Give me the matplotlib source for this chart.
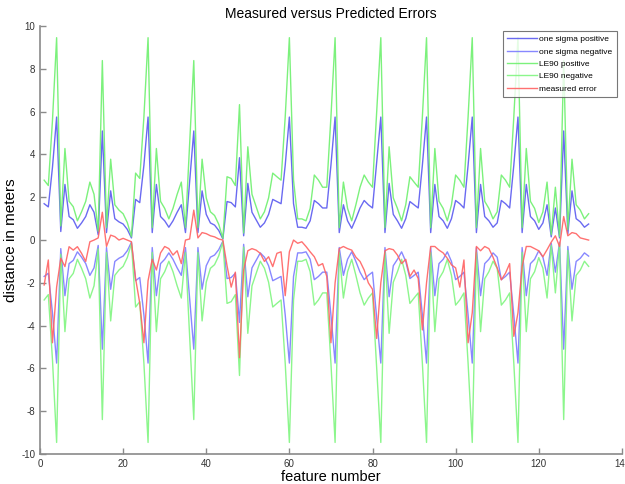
import matplotlib
matplotlib.use("Agg")
import matplotlib.pyplot as plt

# feature numbers 1..132
features = list(range(1, 133))

sigma_pos = [
    1.70, 1.55, 3.40, 5.75, 0.40, 2.60, 1.10, 0.95, 0.55, 0.80, 1.10, 1.65, 1.30, 0.25, 5.10,
    0.35, 2.30, 1.00, 0.85, 0.75, 0.50, 0.10, 1.90, 1.75, 3.50, 5.75,
    0.35, 2.60, 1.10, 0.90, 0.60, 0.90, 1.30, 1.65, 0.35, 2.70, 5.10,
    0.35, 2.30, 1.20, 0.80, 0.70, 0.45, 0.05, 1.80, 1.75, 1.55, 3.85,
    0.20, 2.65, 1.30, 0.95, 0.60, 0.80, 1.20, 1.90, 1.80, 1.70, 3.50, 5.75,
    1.70, 0.60, 0.60, 0.55, 0.90, 1.85, 1.70, 1.50, 1.50, 3.50, 5.75,
    0.35, 1.65, 0.90, 0.55, 1.00, 1.50, 1.85, 1.65, 1.50, 3.60, 5.75,
    0.35, 2.65, 1.20, 0.90, 0.55, 1.00, 1.80, 1.65, 1.50, 3.50, 5.75,
    0.35, 2.60, 1.10, 0.90, 0.55, 1.00, 1.85, 1.70, 1.50, 3.50, 5.75,
    0.35, 2.60, 1.10, 0.90, 0.60, 0.80, 1.85, 1.70, 1.50, 3.50, 5.75,
    0.35, 2.60, 1.10, 0.90, 0.50, 0.80, 1.65, 0.15, 1.50, 0.10, 5.10,
    0.30, 2.30, 1.00, 0.85, 0.60, 0.75,
]

sigma_neg = [
    -1.70, -1.55, -3.40, -5.75, -0.40, -2.60, -1.10, -0.95, -0.55, -0.80, -1.10, -1.65, -1.30, -0.25, -5.10,
    -0.35, -2.30, -1.00, -0.85, -0.75, -0.50, -0.10, -1.90, -1.75, -3.50, -5.75,
    -0.35, -2.60, -1.10, -0.90, -0.60, -0.90, -1.30, -1.65, -0.35, -2.70, -5.10,
    -0.35, -2.30, -1.20, -0.80, -0.70, -0.45, -0.05, -1.80, -1.75, -1.55, -3.85,
    -0.20, -2.65, -1.30, -0.95, -0.60, -0.80, -1.20, -1.90, -1.80, -1.70, -3.50, -5.75,
    -1.70, -0.60, -0.60, -0.55, -0.90, -1.85, -1.70, -1.50, -1.50, -3.50, -5.75,
    -0.35, -1.65, -0.90, -0.55, -1.00, -1.50, -1.85, -1.65, -1.50, -3.60, -5.75,
    -0.35, -2.65, -1.20, -0.90, -0.55, -1.00, -1.80, -1.65, -1.50, -3.50, -5.75,
    -0.35, -2.60, -1.10, -0.90, -0.55, -1.00, -1.85, -1.70, -1.50, -3.50, -5.75,
    -0.35, -2.60, -1.10, -0.90, -0.60, -0.80, -1.85, -1.70, -1.50, -3.50, -5.75,
    -0.35, -2.60, -1.10, -0.90, -0.50, -0.80, -1.65, -0.15, -1.50, -0.10, -5.10,
    -0.30, -2.30, -1.00, -0.85, -0.60, -0.75,
]

le90_pos = [
    2.80, 2.55, 5.59, 9.46, 0.66, 4.28, 1.81, 1.56, 0.90, 1.32, 1.81, 2.71, 2.14, 0.41, 8.39,
    0.58, 3.78, 1.65, 1.40, 1.23, 0.82, 0.16, 3.13, 2.88, 5.76, 9.46,
    0.58, 4.28, 1.81, 1.48, 0.99, 1.48, 2.14, 2.71, 0.58, 4.44, 8.39,
    0.58, 3.78, 1.97, 1.32, 1.15, 0.74, 0.08, 2.96, 2.88, 2.55, 6.33,
    0.33, 4.36, 2.14, 1.56, 0.99, 1.32, 1.97, 3.13, 2.96, 2.80, 5.76, 9.46,
    2.80, 0.99, 0.99, 0.90, 1.48, 3.04, 2.80, 2.47, 2.47, 5.76, 9.46,
    0.58, 2.71, 1.48, 0.90, 1.65, 2.47, 3.04, 2.71, 2.47, 5.92, 9.46,
    0.58, 4.36, 1.97, 1.48, 0.90, 1.65, 2.96, 2.71, 2.47, 5.76, 9.46,
    0.58, 4.28, 1.81, 1.48, 0.90, 1.65, 3.04, 2.80, 2.47, 5.76, 9.46,
    0.58, 4.28, 1.81, 1.48, 0.99, 1.32, 3.04, 2.80, 2.47, 5.76, 9.46,
    0.58, 4.28, 1.81, 1.48, 0.82, 1.32, 2.71, 0.25, 2.47, 0.16, 8.39,
    0.49, 3.78, 1.65, 1.40, 0.99, 1.23,
]

le90_neg = [
    -2.80, -2.55, -5.59, -9.46, -0.66, -4.28, -1.81, -1.56, -0.90, -1.32, -1.81, -2.71, -2.14, -0.41, -8.39,
    -0.58, -3.78, -1.65, -1.40, -1.23, -0.82, -0.16, -3.13, -2.88, -5.76, -9.46,
    -0.58, -4.28, -1.81, -1.48, -0.99, -1.48, -2.14, -2.71, -0.58, -4.44, -8.39,
    -0.58, -3.78, -1.97, -1.32, -1.15, -0.74, -0.08, -2.96, -2.88, -2.55, -6.33,
    -0.33, -4.36, -2.14, -1.56, -0.99, -1.32, -1.97, -3.13, -2.96, -2.80, -5.76, -9.46,
    -2.80, -0.99, -0.99, -0.90, -1.48, -3.04, -2.80, -2.47, -2.47, -5.76, -9.46,
    -0.58, -2.71, -1.48, -0.90, -1.65, -2.47, -3.04, -2.71, -2.47, -5.92, -9.46,
    -0.58, -4.36, -1.97, -1.48, -0.90, -1.65, -2.96, -2.71, -2.47, -5.76, -9.46,
    -0.58, -4.28, -1.81, -1.48, -0.90, -1.65, -3.04, -2.80, -2.47, -5.76, -9.46,
    -0.58, -4.28, -1.81, -1.48, -0.99, -1.32, -3.04, -2.80, -2.47, -5.76, -9.46,
    -0.58, -4.28, -1.81, -1.48, -0.82, -1.32, -2.71, -0.25, -2.47, -0.16, -8.39,
    -0.49, -3.78, -1.65, -1.40, -0.99, -1.23,
]

measured = [
    -2.10, -0.93, -4.80, -2.20, -0.85, -1.24, -0.31, -0.47, -0.31, -0.62, -1.00, -0.08, 0.00, 0.10, 1.30,
    -0.30, 0.23, 0.16, 0.00, 0.08, 0.00, -0.08, -1.80, -2.95, -4.80, -1.90,
    -0.90, -1.40, -0.60, -0.30, -0.40, -0.70, -0.50, -1.10, 0.00, 0.05, 1.40,
    0.10, 0.35, 0.30, 0.20, 0.15, 0.05, 0.00, -1.20, -2.20, -1.50, -5.50,
    -1.40, -0.50, -0.40, -0.47, -0.62, -1.00, -0.78, -1.24, -0.62, -0.55, -2.60, -0.55,
    0.00, -0.15, -0.08, -0.30, -0.55, -0.78, -1.20, -1.10, -1.70, -4.80, -2.00,
    -0.40, -0.30, -0.40, -0.47, -0.80, -1.00, -1.40, -2.00, -2.30, -4.60, -2.00,
    -0.50, -0.40, -0.45, -0.70, -1.10, -0.90, -1.70, -1.40, -1.80, -4.20, -2.00,
    -0.30, -0.30, -0.47, -0.60, -0.85, -1.16, -1.30, -2.20, -0.93, -4.80, -3.40,
    -0.30, -0.50, -0.30, -0.40, -0.80, -1.30, -1.86, -1.55, -1.10, -4.50, -3.40,
    -1.24, -0.30, -0.30, -0.40, -0.50, -0.78, -0.45, -0.10, 0.20, -0.30, 1.10,
    0.20, 0.35, 0.30, 0.10, 0.05, 0.00,
]

plt.rcParams["font.family"] = ["Liberation Sans", "DejaVu Sans"]

fig = plt.figure(figsize=(6.25, 4.84), dpi=100)
ax = fig.add_axes([0.064, 0.062, 0.931, 0.884])

lw = 1.0
ax.plot(features, sigma_pos, color="#5a5af0", lw=lw, alpha=0.9, label="one sigma positive")
ax.plot(features, sigma_neg, color="#7b7bff", lw=lw, alpha=0.9, label="one sigma negative")
ax.plot(features, le90_pos, color="#6ef06e", lw=lw, alpha=0.9, label="LE90 positive")
ax.plot(features, le90_neg, color="#80f580", lw=lw, alpha=0.9, label="LE90 negative")
ax.plot(features, measured, color="#ff6262", lw=lw, alpha=0.9, label="measured error")

ax.set_xlim(0, 140)
ax.set_ylim(-10, 10)
ax.set_xticks(range(0, 141, 20))
ax.set_yticks(range(-10, 11, 2))
ax.set_yticklabels([str(v) for v in range(-10, 11, 2)])

for s in ["top", "right"]:
    ax.spines[s].set_visible(False)
for s in ["left", "bottom"]:
    ax.spines[s].set_color("#8a8a8a")
    ax.spines[s].set_linewidth(1.2)
ax.tick_params(direction="in", length=4, width=1, colors="#8a8a8a",
               labelsize=7, labelcolor="#333333")

ax.set_title("Measured versus Predicted Errors", fontsize=10, pad=6)
ax.set_xlabel("feature number", fontsize=10.5, labelpad=1)
ax.set_ylabel("distance in meters", fontsize=11, labelpad=2)

leg = ax.legend(loc="upper right", fontsize=6, frameon=True, fancybox=False,
                handlelength=3.6, handletextpad=0.3, borderpad=0.5,
                labelspacing=0.55, bbox_to_anchor=(0.998, 0.998))
leg.get_frame().set_edgecolor("#555555")
leg.get_frame().set_linewidth(0.8)

fig.savefig("out.png", dpi=100)
